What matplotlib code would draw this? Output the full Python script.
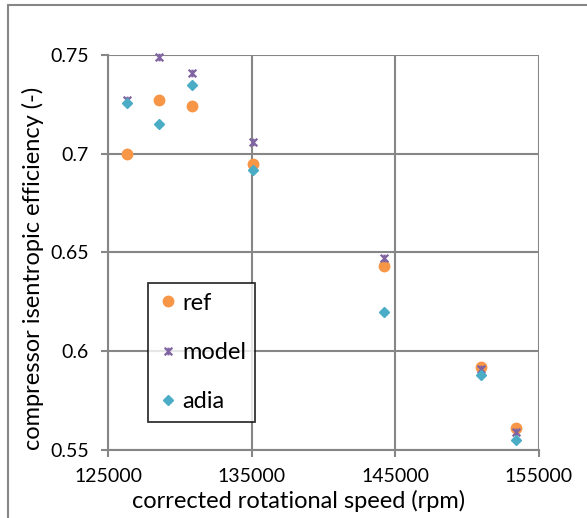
import matplotlib.pyplot as plt
from matplotlib.path import Path
from matplotlib.patches import Rectangle

# data
speed = [126300, 128500, 130850, 135100, 144200, 151000, 153400]
eff_ref = [0.700, 0.727, 0.724, 0.695, 0.643, 0.592, 0.561]
eff_model = [0.727, 0.749, 0.741, 0.706, 0.647, 0.591, 0.559]
eff_adia = [0.7255, 0.715, 0.735, 0.692, 0.620, 0.588, 0.555]

x_ticks = [125000, 135000, 145000, 155000]
y_ticks = [0.55, 0.6, 0.65, 0.7, 0.75]
y_tick_labels = ['0.55', '0.6', '0.65', '0.7', '0.75']

grey = '#868686'
plt.rcParams['font.family'] = ['Lato', 'DejaVu Sans']

# Excel-style star marker: x with a vertical bar
star = Path([(-1, -1), (1, 1), (-1, 1), (1, -1), (0, -1), (0, 1)],
            [Path.MOVETO, Path.LINETO, Path.MOVETO, Path.LINETO, Path.MOVETO, Path.LINETO])

fig = plt.figure(figsize=(5.87, 5.18), dpi=100)
ax = fig.add_axes([0.1848, 0.1313, 0.7326, 0.7625])

ax.plot(speed, eff_ref, 'o', color='#F79646', markersize=7.5, label='ref', clip_on=False, zorder=3)
ax.plot(speed, eff_model, linestyle='none', marker=star, markeredgecolor='#8064A2',
        markerfacecolor='none', markersize=5.5, markeredgewidth=1.6, label='model', clip_on=False, zorder=4)
ax.plot(speed, eff_adia, 'D', color='#4BACC6', markersize=5.5, label='adia', clip_on=False, zorder=5)

ax.set_xlim(125000, 155000)
ax.set_ylim(0.55, 0.75)
ax.set_xticks(x_ticks)
ax.set_yticks(y_ticks)
ax.set_yticklabels(y_tick_labels)
ax.grid(True, color=grey, linewidth=1.5)
ax.set_axisbelow(True)

for s in ['top', 'right']:
    ax.spines[s].set_visible(False)
for s in ['left', 'bottom']:
    ax.spines[s].set_color(grey)
    ax.spines[s].set_linewidth(1.5)
ax.tick_params(colors=grey, labelcolor='black', length=5, width=1.5, labelsize=14)
ax.tick_params(axis='x', pad=8)
ax.tick_params(axis='y', pad=9)

ax.set_xlabel('corrected rotational speed (rpm)', fontsize=17)
ax.xaxis.set_label_coords(0.443, -0.1)
ax.set_ylabel('compressor isentropic efficiency (-)', fontsize=17)
ax.yaxis.set_label_coords(-0.15, 0.46)

leg = ax.legend(loc='upper left', bbox_to_anchor=(0.0919, 0.422), fontsize=17,
                frameon=True, fancybox=False, labelspacing=1.2, handletextpad=0.14,
                handlelength=0.9, borderpad=0.4, borderaxespad=0)
leg.get_frame().set_edgecolor('black')
leg.get_frame().set_linewidth(1.3)

# chart border (only top and left visible in the crop)
fig.patches.append(Rectangle((8 / 587, -0.1), 1.2, 1 - 5 / 518 + 0.1, transform=fig.transFigure,
                             fill=False, edgecolor=grey, linewidth=1.5))

fig.savefig('out.png', dpi=100)
